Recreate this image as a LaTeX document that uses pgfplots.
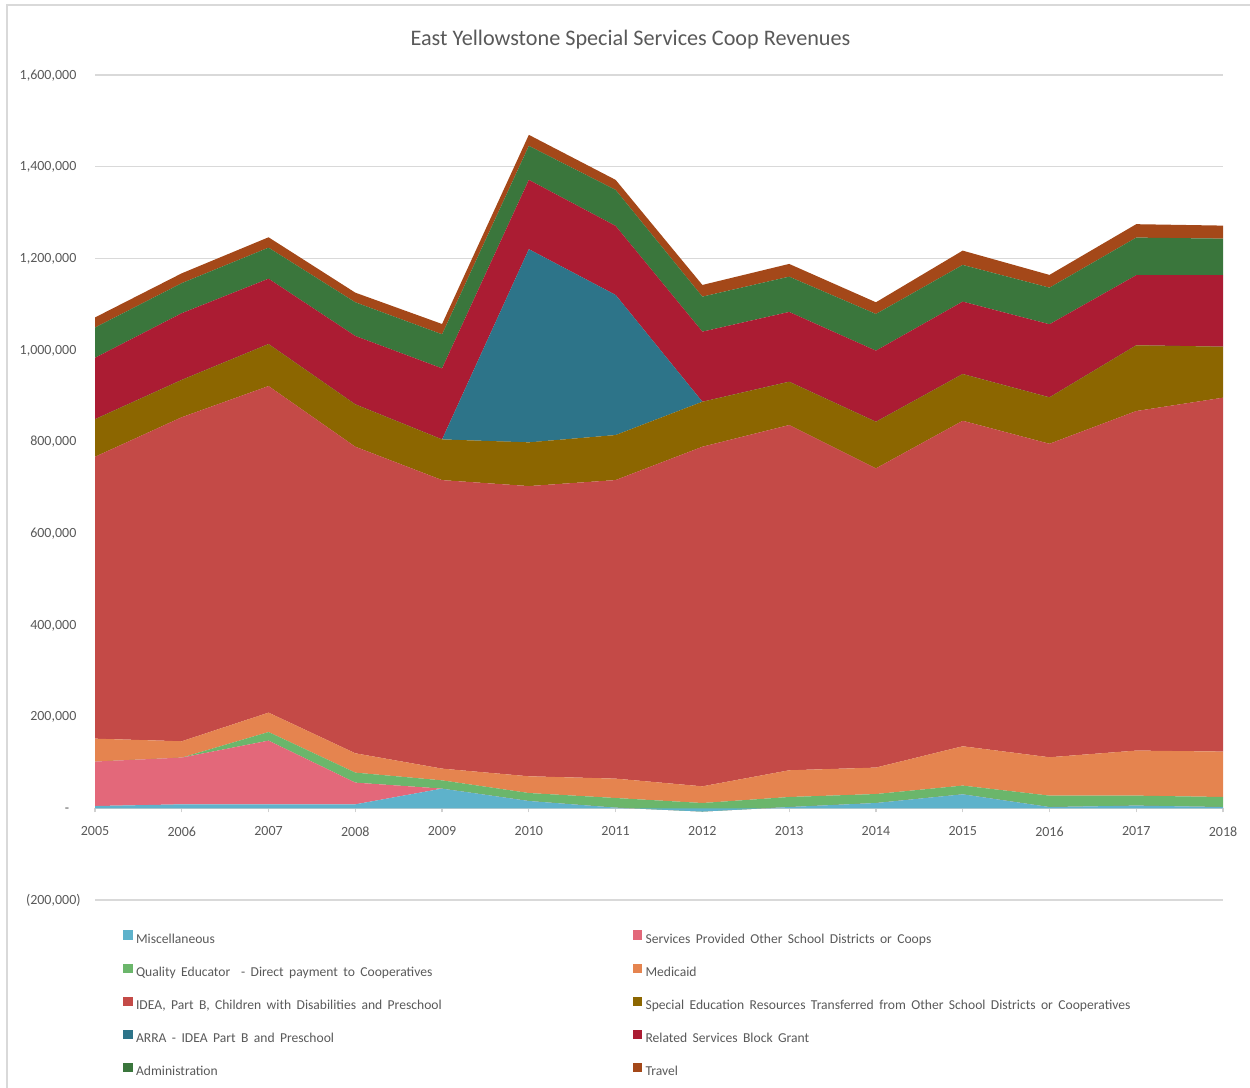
\documentclass[border=0pt]{standalone}
\usepackage{fontspec}
\setmainfont{Carlito}
\usepackage{pgfplots}
\pgfplotsset{compat=1.18}
\usepackage{pgfplotstable}

\definecolor{cMisc}{HTML}{5EB2CB}
\definecolor{cServ}{HTML}{E3687A}
\definecolor{cQE}{HTML}{6BB66B}
\definecolor{cMedi}{HTML}{E5844F}
\definecolor{cIDEA}{HTML}{C44A47}
\definecolor{cSped}{HTML}{8C6600}
\definecolor{cARRA}{HTML}{2D7489}
\definecolor{cRS}{HTML}{AB1C33}
\definecolor{cAdmin}{HTML}{3A763C}
\definecolor{cTravel}{HTML}{A44819}
\definecolor{cText}{HTML}{595959}
\definecolor{cGrid}{HTML}{D9D9D9}
\definecolor{cAxis}{HTML}{D0D0D0}
\definecolor{cBorder}{HTML}{D9D9D9}

\pgfplotstableread{
year misc serv qe medi idea sped arra rs admin travel
2005 5000 97000 0 50000 615000 82000 0 134000 66000 22000
2006 8700 102000 0 35600 707000 81500 0 145500 65600 21400
2007 8700 139000 18800 42300 712500 91700 0 142600 67700 22600
2008 8700 47400 21800 42200 668800 92500 0 149200 73500 21000
2009 43000 0 18000 25600 629500 88800 0 155000 74300 22500
2010 16000 0 17400 36500 633200 95400 421400 151300 74200 24000
2011 1500 0 21000 42300 651400 98200 305700 150600 78600 21900
2012 -7000 0 18600 36400 740900 98200 0 152900 76400 25500
2013 2800 0 21900 58300 753200 94600 0 152200 77000 27800
2014 11600 0 19600 57700 652800 101700 0 155100 80100 25500
2015 30600 0 19000 85800 710200 102000 0 157900 80100 31200
2016 2800 0 24900 83700 684000 101300 0 159400 79900 27800
2017 5900 0 21800 98300 740800 143500 0 152800 82100 29300
2018 2800 0 21900 99100 772100 111300 0 155900 79900 28400
}\datatable

\newcommand{\lent}[1]{\hspace*{1.75pt}\makebox[248.4pt][l]{\spaceskip=2.7pt\relax #1}}

\begin{document}
\begin{tikzpicture}
\useasboundingbox (0,0) rectangle (625pt,544pt);
\draw[color=cBorder, line width=0.75pt] (3.5pt,-5pt) -- (3.5pt,541.5pt) -- (630pt,541.5pt);
\begin{axis}[
  at={(47.5pt,94pt)}, anchor=south west,
  width=564pt, height=412.5pt, scale only axis,
  xmin=2005, xmax=2018, ymin=-200000, ymax=1600000,
  stack plots=y,
  scaled y ticks=false, scaled x ticks=false,
  axis x line=middle, axis y line=left,
  hide obscured x ticks=false, hide obscured y ticks=false,
  x axis line style={draw=cAxis, line width=0.6pt, -},
  y axis line style={draw=none},
  xtick={2005,2006,2007,2008,2009,2010,2011,2012,2013,2014,2015,2016,2017,2018},
  xticklabels={2005,2006,2007,2008,2009,2010,2011,2012,2013,2014,2015,2016,2017,2018},
  xtick align=outside,
  xtick style={draw=cAxis, line width=0.6pt},
  major tick length=2pt,
  ytick={-200000,0,200000,400000,600000,800000,1000000,1200000,1400000,1600000},
  yticklabels={{(200,000)},{-\phantom{0)}},{200,000\phantom{)}},{400,000\phantom{)}},{600,000\phantom{)}},{800,000\phantom{)}},{1,000,000\phantom{)}},{1,200,000\phantom{)}},{1,400,000\phantom{)}},{1,600,000\phantom{)}}},
  ytick style={draw=none},
  ymajorgrids, grid style={draw=cGrid, line width=0.6pt},
  tick label style={font=\fontsize{7}{8.4}\selectfont, text=cText},
  xticklabel style={inner sep=0pt, anchor=north, yshift=-7pt},
  yticklabel style={inner sep=0pt, anchor=east, xshift=-6pt},
  legend columns=2,
  legend cell align=left,
  legend style={at={(axis description cs:0.0248,-0.0364)}, anchor=north west,
    draw=none, fill=none, inner sep=0pt, column sep=0pt, row sep=8.75pt,
    font=\fontsize{6.8}{8}\selectfont, text=cText,
    nodes={inner sep=0pt, text height=5pt, text depth=1.5pt}},
  legend image code/.code={\fill[#1] (0pt,0pt) rectangle (4.6pt,4.6pt);},
]
\addplot[fill=cMisc, draw=none] table[x=year,y=misc]{\datatable} \closedcycle;
\addlegendentry{\lent{Miscellaneous}}
\addplot[fill=cServ, draw=none] table[x=year,y=serv]{\datatable} \closedcycle;
\addlegendentry{\lent{Services Provided Other School Districts or Coops}}
\addplot[fill=cQE, draw=none] table[x=year,y=qe]{\datatable} \closedcycle;
\addlegendentry{\lent{Quality Educator~ - Direct payment to Cooperatives}}
\addplot[fill=cMedi, draw=none] table[x=year,y=medi]{\datatable} \closedcycle;
\addlegendentry{\lent{Medicaid}}
\addplot[fill=cIDEA, draw=none] table[x=year,y=idea]{\datatable} \closedcycle;
\addlegendentry{\lent{IDEA, Part B, Children with Disabilities and Preschool}}
\addplot[fill=cSped, draw=none] table[x=year,y=sped]{\datatable} \closedcycle;
\addlegendentry{\lent{Special Education Resources Transferred from Other School Districts or Cooperatives}}
\addplot[fill=cARRA, draw=none] table[x=year,y=arra]{\datatable} \closedcycle;
\addlegendentry{\lent{ARRA - IDEA Part B and Preschool}}
\addplot[fill=cRS, draw=none] table[x=year,y=rs]{\datatable} \closedcycle;
\addlegendentry{\lent{Related Services Block Grant}}
\addplot[fill=cAdmin, draw=none] table[x=year,y=admin]{\datatable} \closedcycle;
\addlegendentry{\lent{Administration}}
\addplot[fill=cTravel, draw=none] table[x=year,y=travel]{\datatable} \closedcycle;
\addlegendentry{\lent{Travel}}
\end{axis}
\node[anchor=base, font=\fontsize{11.1}{13}\selectfont, text=cText] at (315.25pt,521pt) {East Yellowstone Special Services Coop Revenues};
\end{tikzpicture}
\end{document}
